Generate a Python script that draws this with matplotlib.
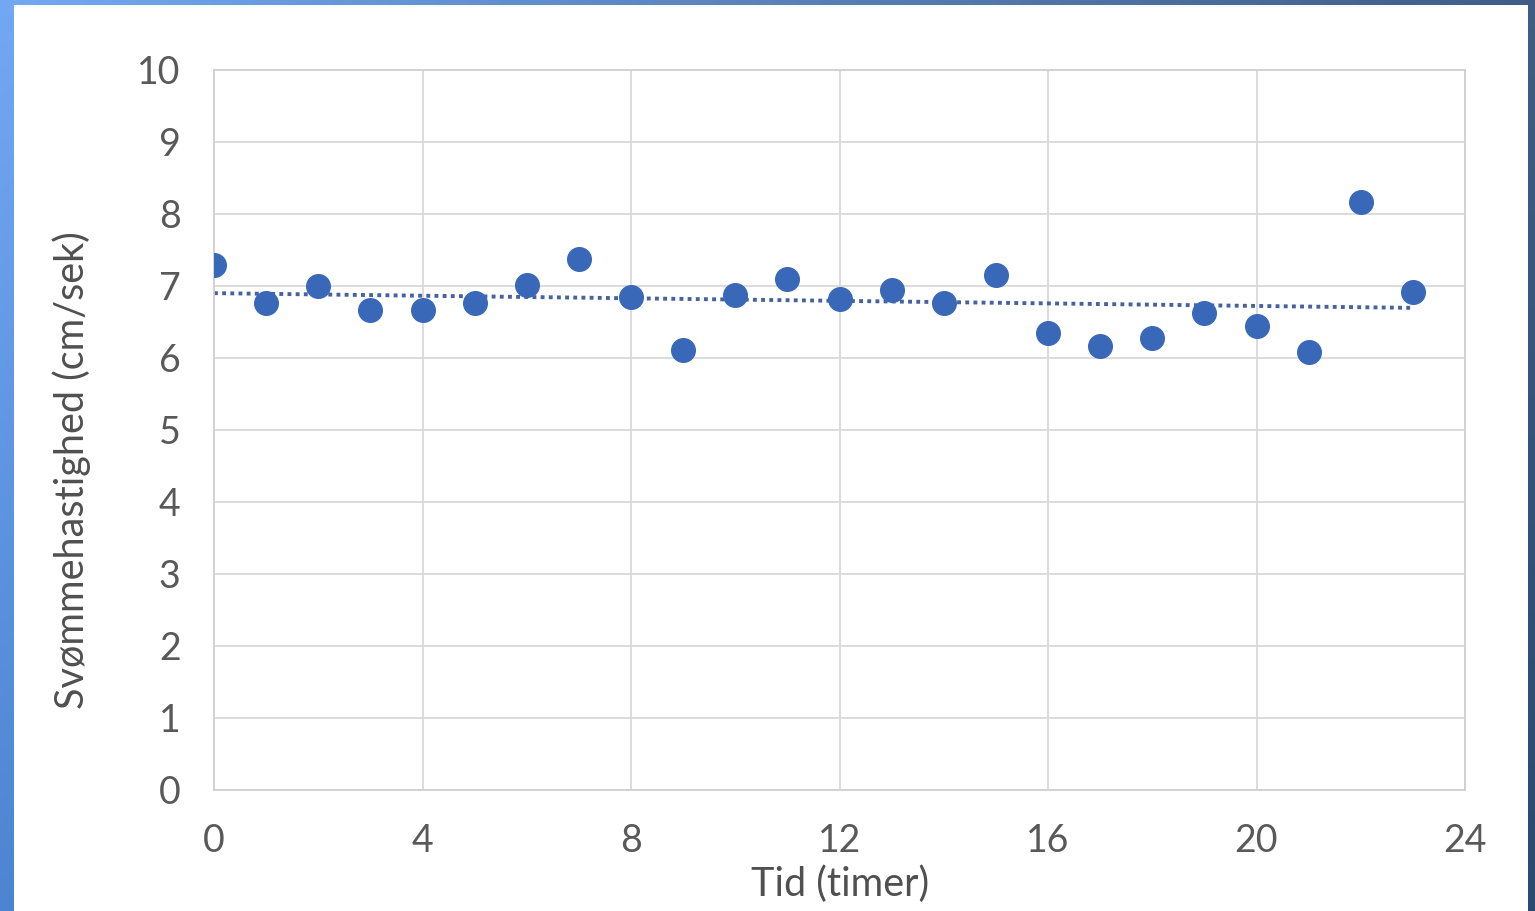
import numpy as np
import matplotlib
matplotlib.use('Agg')
import matplotlib.pyplot as plt
from matplotlib.patches import Rectangle

# svoemmehastighed maalt hver time over et doegn
hours = [0, 1, 2, 3, 4, 5, 6, 7, 8, 9, 10, 11, 12, 13, 14, 15, 16, 17, 18, 19, 20, 21, 22, 23]
speed = [7.29, 6.76, 7.00, 6.67, 6.67, 6.76, 7.01, 7.37, 6.85, 6.11, 6.87, 7.10,
         6.82, 6.94, 6.76, 7.15, 6.35, 6.17, 6.28, 6.62, 6.44, 6.08, 8.17, 6.92]
x_ticks = [0, 4, 8, 12, 16, 20, 24]
y_ticks = [0, 1, 2, 3, 4, 5, 6, 7, 8, 9, 10]

plt.rcParams['font.family'] = ['Lato', 'DejaVu Sans']

fig = plt.figure(figsize=(15.35, 9.11), dpi=100)

# blue slide background behind the white chart box
bg = fig.add_axes([0, 0, 1, 1])
grad = np.linspace(0, 1, 256)
img = np.zeros((256, 256, 3))
top = np.array([0.45, 0.66, 0.95])
bot = np.array([0.30, 0.52, 0.82])
for i, t in enumerate(grad):
    img[i, :, :] = top * (1 - t) + bot * t
# darker towards the right
shade = np.linspace(1.0, 0.55, 256)
img = img * shade[None, :, None]
bg.imshow(img, extent=[0, 1, 0, 1], aspect='auto')
bg.add_patch(Rectangle((14 / 1535, 0), (1528 - 14) / 1535, (911 - 5) / 911,
                       facecolor='white', edgecolor='none'))
bg.set_xlim(0, 1)
bg.set_ylim(0, 1)
bg.axis('off')

ax = fig.add_axes([214 / 1535, 121 / 911, 1251 / 1535, 720 / 911])
ax.set_facecolor('none')

ax.plot(hours, speed, 'o', color='#3a68b9', markersize=17, zorder=3)

# lineaer tendenslinje
k, m = np.polyfit(hours, speed, 1)
tx = np.array([hours[0], hours[-1]])
ax.plot(tx, k * tx + m, color='#48629e', linewidth=2.8,
        linestyle=(0, (1, 1.1)), zorder=2)

ax.set_xlim(0, 24)
ax.set_ylim(0, 10)
ax.set_xticks(x_ticks)
ax.set_yticks(y_ticks)
ax.grid(True, color='#d9d9d9', linewidth=1.3)
ax.set_axisbelow(True)
for s in ax.spines.values():
    s.set_color('#d0d0d0')
    s.set_linewidth(1.3)
ax.tick_params(length=0, labelsize=27, labelcolor='#595959')
ax.tick_params(axis='x', pad=24)
ax.tick_params(axis='y', pad=24)

fig.text(840 / 1535, 1 - 884 / 911, 'Tid (timer)', ha='center', va='center',
         fontsize=28.5, color='#505050')
fig.text(72 / 1535, 1 - 470 / 911, 'Svømmehastighed (cm/sek)', ha='center', va='center',
         rotation=90, fontsize=28.5, color='#505050')

plt.savefig('out.png', dpi=100)
